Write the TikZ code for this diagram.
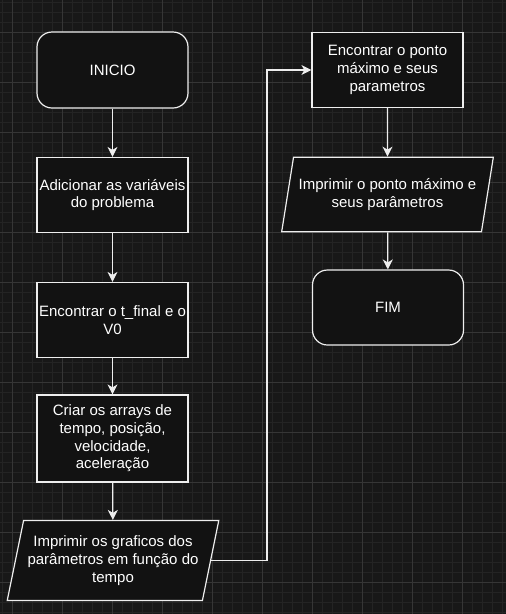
\documentclass[tikz,border=0pt]{standalone}
\usepackage{fontspec}
\setmainfont{Liberation Sans}
\usetikzlibrary{shapes.geometric,arrows.meta}
\definecolor{bgc}{HTML}{181818}
\definecolor{minorc}{HTML}{242424}
\definecolor{majorc}{HTML}{363636}
\definecolor{nodefill}{HTML}{121212}
\definecolor{linec}{HTML}{EEEEEE}
\tikzset{
  base/.style={draw=linec, line width=1.2pt, fill=nodefill, text=white, align=center,
    font=\fontsize{15}{17.7}\selectfont, inner sep=2pt},
  terminal/.style={base, rectangle, rounded corners=15pt, minimum width=151pt, minimum height=76pt},
  procbox/.style={base, rectangle, minimum width=151pt, minimum height=75pt},
  iobox/.style={base, trapezium, trapezium left angle=#1, trapezium right angle=180-#1,
    trapezium stretches=true, minimum width=212pt},
  flow/.style={draw=linec, line width=1.2pt, -{Stealth[length=10pt,width=10pt,inset=3pt]}},
}
\begin{document}
\begin{tikzpicture}[x=1pt,y=-1pt]
\useasboundingbox (0,0) rectangle (506,614);
\fill[bgc] (0,0) rectangle (506,614);
\foreach \i in {2,12,...,506} \draw[minorc, line width=0.6pt] (\i,0) -- (\i,614);
\foreach \j in {2,12,...,614} \draw[minorc, line width=0.6pt] (0,\j) -- (506,\j);
\foreach \i in {12,62,...,506} \draw[majorc, line width=0.8pt] (\i,0) -- (\i,614);
\foreach \j in {32,82,...,614} \draw[majorc, line width=0.8pt] (0,\j) -- (506,\j);

\node[terminal] (inicio) at (112.5,70) {INICIO};
\node[procbox] (vars) at (112.5,195) {Adicionar as variáveis\\do problema};
\node[procbox] (tfinal) at (112.5,320) {Encontrar o t\_final e o\\V0};
\node[procbox, minimum height=87pt] (arrays) at (112.5,438.5) {Criar os arrays de\\tempo, posição,\\velocidade,\\aceleração};
\node[iobox=73.3, minimum height=80pt] (graf) at (113,560.5) {Imprimir os graficos dos\\parâmetros em função do\\tempo};
\node[procbox] (ponto) at (387.5,70) {Encontrar o ponto\\máximo e seus\\parametros};
\node[iobox=72.3, minimum height=74.5pt] (impr) at (387.5,194.5) {Imprimir o ponto máximo e\\seus parâmetros};
\node[terminal, minimum height=75pt] (fim) at (388,307.5) {FIM};

\coordinate (turn) at (267,70);

\draw[flow] (inicio) -- (vars);
\draw[flow] (vars) -- (tfinal);
\draw[flow] (tfinal) -- (arrays);
\draw[flow] (arrays) -- (graf);
\draw[flow] (graf.east) -| (turn) -- (ponto.west);
\draw[flow] (ponto) -- (impr);
\draw[flow] (impr) -- (fim);
\end{tikzpicture}
\end{document}
